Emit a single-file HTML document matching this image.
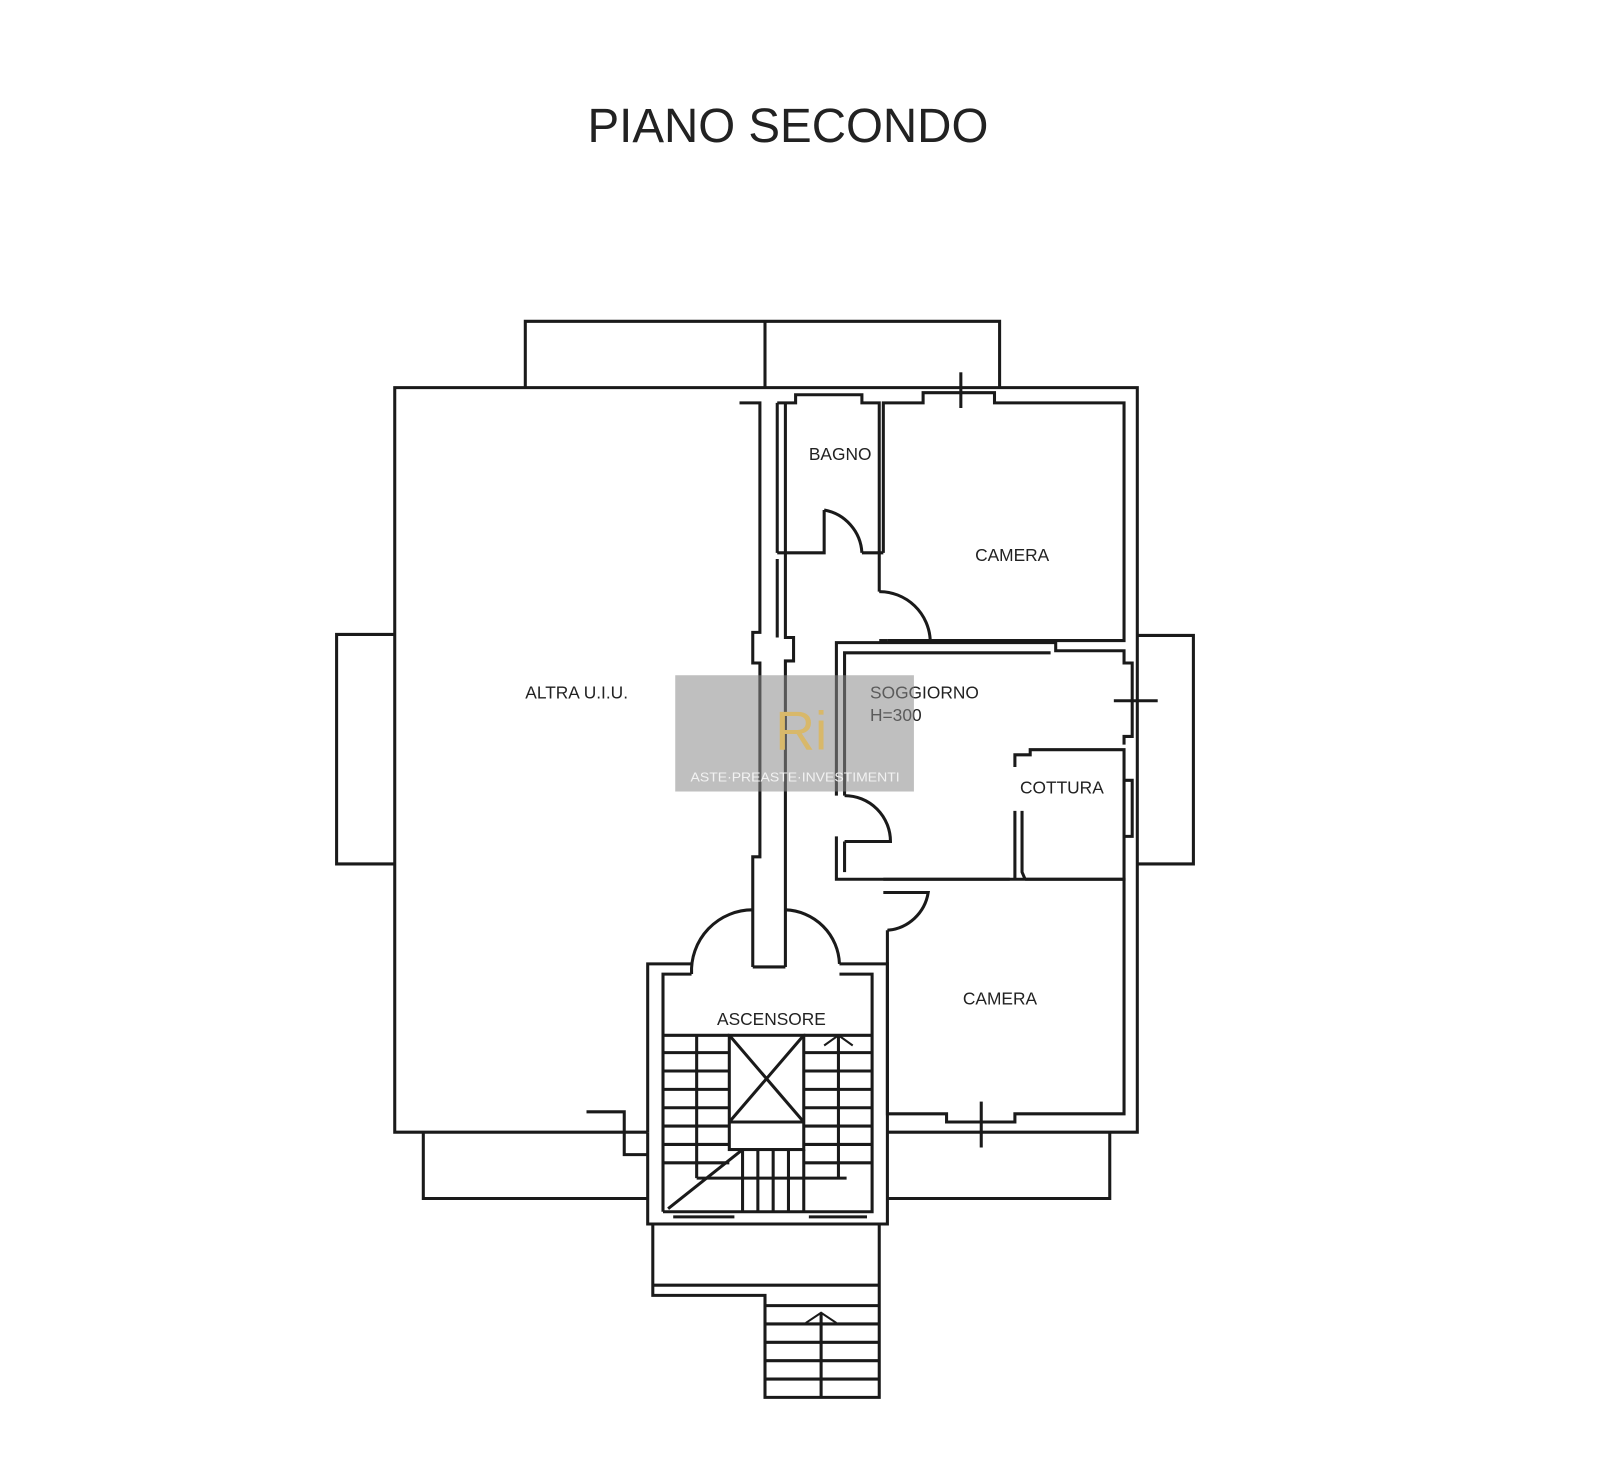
<!DOCTYPE html>
<html><head><meta charset="utf-8"><style>
html,body{margin:0;padding:0;background:#fff;}
svg{display:block;}
text{font-family:"Liberation Sans",sans-serif;fill:#222;}
</style></head><body>
<svg width="1600" height="1472" viewBox="0 0 1600 1472" xmlns="http://www.w3.org/2000/svg">
<g transform="scale(1.02)">
<text x="576" y="139" font-size="47" textLength="393" lengthAdjust="spacingAndGlyphs">PIANO SECONDO</text>
<g fill="none" stroke="#1a1a1a" stroke-width="3">
<polyline points="515,380 515,315 980,315 980,380"/>
<line x1="750" y1="315" x2="750" y2="380"/>
<polyline points="387,622 330,622 330,847 387,847"/>
<polyline points="1115,623 1170,623 1170,847 1115,847"/>
<polyline points="415,1110 415,1175 635,1175"/>
<polyline points="870,1175 1088,1175 1088,1110"/>
<polyline points="635,1110 387,1110 387,380 1115,380 1115,1110 870,1110"/>
<polyline points="575,1090 612,1090 612,1132 635,1132"/>
<polyline points="725,395 745,395 745,620 738,620 738,650 745,650 745,840 738,840 738,948"/>
<polyline points="770,395 770,625 778,625 778,648 770,648 770,840 770,948"/>
<polyline points="762,395 762,542"/>
<polyline points="762,548 762,625"/>
<polyline points="762,395 780,395 780,387 845,387 845,395 862,395 862,542 845,542"/>
<polyline points="762,542 808,542 808,500"/>
<path d="M808,500 A45,45 0 0 1 845,542"/>
<polyline points="866,542 866,395 905,395 905,385 975,385 975,395 1102,395 1102,628 870,628"/>
<line x1="942" y1="365" x2="942" y2="400"/>
<polyline points="866,542 862,542 862,580"/>
<path d="M862,580 A50,50 0 0 1 912,628"/>
<line x1="862" y1="628" x2="870" y2="628"/>
<polyline points="820,780 820,630 1035,630 1035,638 1102,638 1102,650 1110,650 1110,722 1102,722 1102,730"/>
<polyline points="828,780 828,640 1030,640"/>
<line x1="1092" y1="687" x2="1135" y2="687"/>
<polyline points="820,820 820,862 990,862"/>
<polyline points="828,825 828,855"/>
<path d="M828,780 A45,45 0 0 1 873,825 L828,825"/>
<polyline points="995,752 995,740 1010,740 1010,735 1102,735 1102,862 1005,862"/>
<polyline points="995,795 995,862"/>
<polyline points="1002,795 1002,855 1005,862"/>
<polyline points="1102,765 1110,765 1110,820 1102,820"/>
<polyline points="866,862 1102,862 1102,1092 995,1092 995,1100 928,1100 928,1092 870,1092 870,912"/>
<line x1="962" y1="1080" x2="962" y2="1125"/>
<path d="M866,875 L910,875 A44,44 0 0 1 870,912"/>
<polyline points="635,1110 635,945 678,945"/>
<polyline points="650,1188 650,955 678,955"/>
<path d="M678,955 A60,60 0 0 1 738,892"/>
<path d="M770,892 A55,55 0 0 1 823,945"/>
<polyline points="823,945 870,945 870,1200 635,1200 635,1110"/>
<polyline points="823,955 855,955 855,1188 650,1188"/>
<line x1="738" y1="948" x2="770" y2="948"/>
<rect x="715" y="1015" width="73" height="112"/>
<line x1="715" y1="1015" x2="788" y2="1100"/>
<line x1="788" y1="1015" x2="715" y2="1100"/>
<line x1="715" y1="1100" x2="788" y2="1100"/>
<text x="703" y="1005" font-size="17" stroke="none">ASCENSORE</text>
<line x1="650" y1="1015" x2="715" y2="1015"/>
<line x1="650" y1="1032" x2="715" y2="1032"/>
<line x1="650" y1="1050" x2="715" y2="1050"/>
<line x1="650" y1="1068" x2="715" y2="1068"/>
<line x1="650" y1="1086" x2="715" y2="1086"/>
<line x1="650" y1="1104" x2="715" y2="1104"/>
<line x1="650" y1="1122" x2="715" y2="1122"/>
<line x1="650" y1="1140" x2="715" y2="1140"/>
<line x1="683" y1="1015" x2="683" y2="1155"/>
<line x1="683" y1="1155" x2="830" y2="1155"/>
<line x1="655" y1="1185" x2="728" y2="1127"/>
<line x1="728" y1="1127" x2="728" y2="1188"/>
<line x1="743" y1="1127" x2="743" y2="1188"/>
<line x1="758" y1="1127" x2="758" y2="1188"/>
<line x1="773" y1="1127" x2="773" y2="1188"/>
<line x1="788" y1="1127" x2="788" y2="1188"/>
<line x1="788" y1="1015" x2="855" y2="1015"/>
<line x1="788" y1="1032" x2="855" y2="1032"/>
<line x1="788" y1="1050" x2="855" y2="1050"/>
<line x1="788" y1="1068" x2="855" y2="1068"/>
<line x1="788" y1="1086" x2="855" y2="1086"/>
<line x1="788" y1="1104" x2="855" y2="1104"/>
<line x1="788" y1="1122" x2="855" y2="1122"/>
<line x1="788" y1="1140" x2="855" y2="1140"/>
<line x1="822" y1="1015" x2="822" y2="1155"/>
<polyline points="808,1025 822,1015 836,1025" stroke-width="2"/>
<line x1="660" y1="1193" x2="720" y2="1193"/>
<line x1="793" y1="1193" x2="850" y2="1193"/>
<polyline points="640,1200 640,1270 750,1270 750,1370 862,1370 862,1200"/>
<line x1="640" y1="1260" x2="862" y2="1260"/>
<line x1="750" y1="1280" x2="862" y2="1280"/>
<line x1="750" y1="1298" x2="862" y2="1298"/>
<line x1="750" y1="1316" x2="862" y2="1316"/>
<line x1="750" y1="1334" x2="862" y2="1334"/>
<line x1="750" y1="1352" x2="862" y2="1352"/>
<line x1="805" y1="1287" x2="805" y2="1370"/>
<polyline points="790,1297 805,1287 820,1297" stroke-width="2"/>
</g>
<g font-size="17">
<text x="793" y="451">BAGNO</text>
<text x="956" y="550">CAMERA</text>
<text x="515" y="685">ALTRA U.I.U.</text>
<text x="853" y="685">SOGGIORNO</text>
<text x="853" y="707">H=300</text>
<text x="1000" y="778">COTTURA</text>
<text x="944" y="985">CAMERA</text>
</g>
<rect x="662" y="662" width="234" height="114" fill="#8a8a8a" opacity="0.55"/>
<text x="760" y="735" font-size="54" font-family="Liberation Serif" style="fill:#d8b86a">Ri</text>
<text x="677" y="766" font-size="13" font-family="Liberation Serif" style="fill:#f2f2f2" textLength="205" lengthAdjust="spacingAndGlyphs">ASTE·PREASTE·INVESTIMENTI</text>
</g>
</svg>
</body></html>
